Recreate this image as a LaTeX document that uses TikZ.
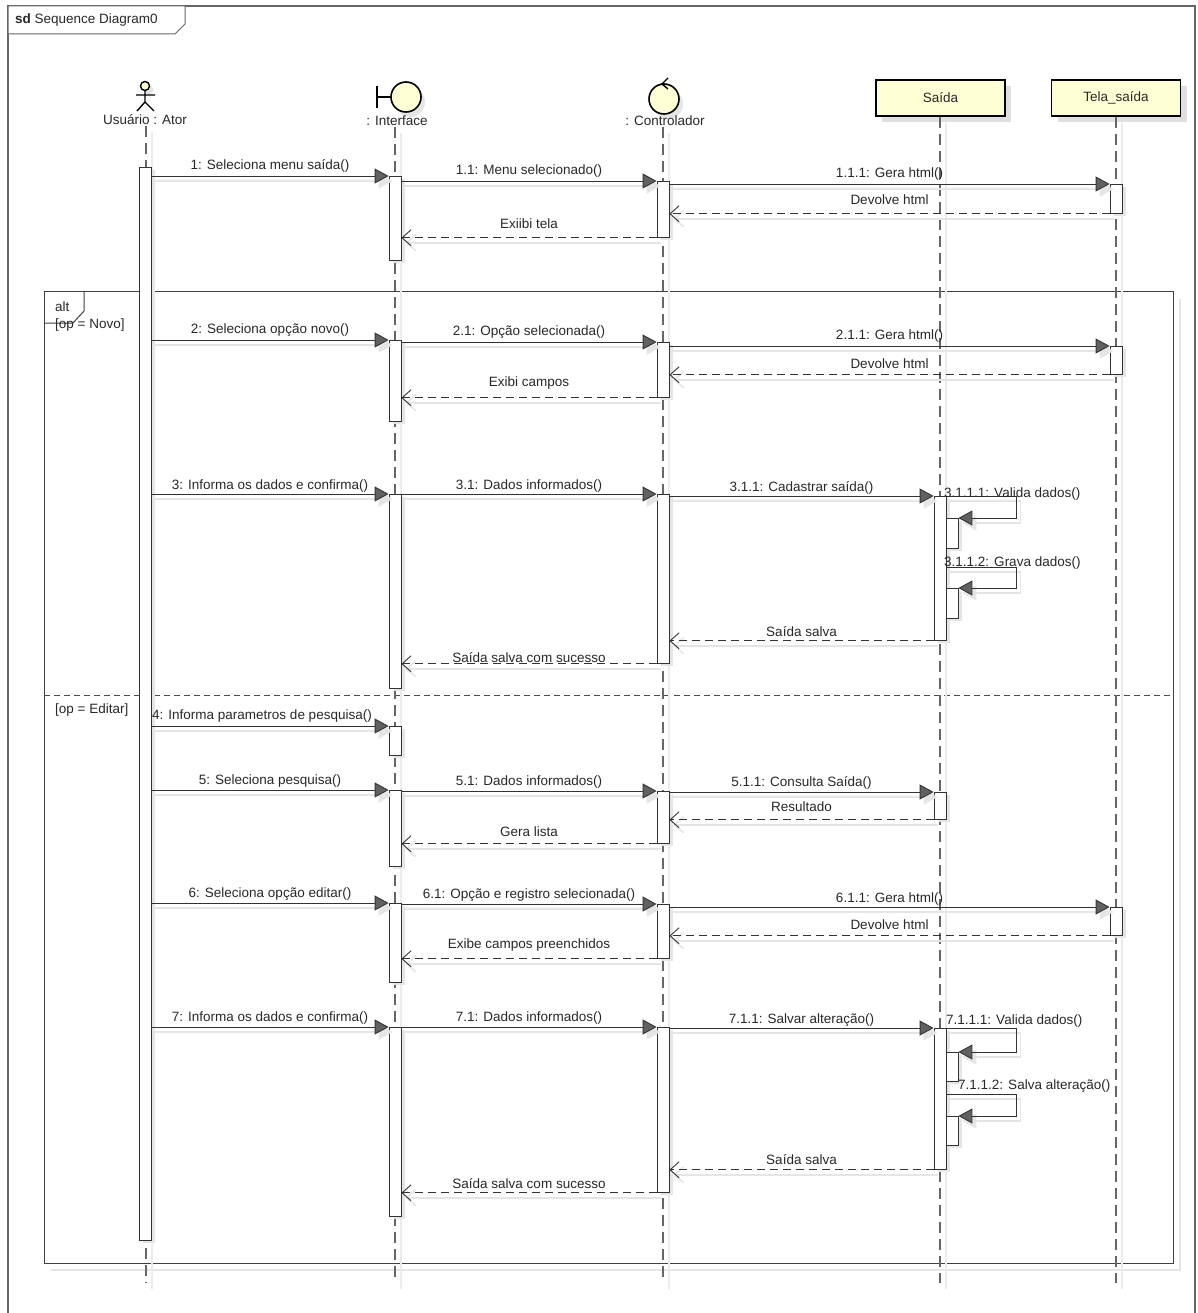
\documentclass[tikz,border=0pt]{standalone}
\usepackage{fontspec}
\setmainfont{Liberation Sans}
\usetikzlibrary{arrows.meta,calc,shadows}

\definecolor{headfill}{RGB}{255,255,214}
\definecolor{ink}{RGB}{40,40,40}

\tikzset{
    every node/.style={font=\fontsize{13.5}{16}\selectfont, text=ink, inner sep=1pt},
    lifeline/.style={draw=black!60, line width=1.4pt, dash pattern=on 11pt off 6pt,
        preaction={draw=black!8, solid, line width=1.2pt, transform canvas={shift={(6pt,-6pt)}}}},
    bar/.style={draw=black!80, fill=white, line width=0.8pt, minimum width=12pt, inner sep=0pt, anchor=north,
        drop shadow={shadow xshift=4pt, shadow yshift=-3pt, opacity=1, fill=black!10}},
    call/.style={draw=black!80, line width=0.9pt, -{Triangle[length=14pt,width=15pt,fill=black!62]},
        preaction={draw=black!10, line width=1.6pt, -{Triangle[length=14pt,width=15pt]}, transform canvas={shift={(4pt,-5pt)}}}},
    reply/.style={draw=black!80, line width=0.9pt, dash pattern=on 8pt off 5pt, -{Straight Barb[length=9pt,width=16pt]},
        preaction={draw=black!10, solid, line width=1.6pt, transform canvas={shift={(4pt,-5pt)}}}},
    headbox/.style={draw=black, line width=1.6pt, fill=headfill, minimum width=129pt, minimum height=36pt,
        drop shadow={shadow xshift=6pt, shadow yshift=-6pt, opacity=1, fill=black!12}},
}

\begin{document}
\begin{tikzpicture}[x=1pt, y=-1pt]
    \useasboundingbox (0,0) rectangle (1197,1313);
    \fill[white] (0,0) rectangle (1197,1313);

    % Outer frame
    \draw[black!60, line width=1.4pt] (8,6) rectangle (1195,1330);
    \draw[black!60, line width=1pt, fill=white] (8,6) -- (185,6) -- (185,24) -- (175,34) -- (8,34) -- cycle;
    \node[anchor=west] (sdlbl) at (14,20) {\textbf{sd} Sequence Diagram0};

    % Alt fragment
    \draw[black!10, line width=1.6pt] (1180,299) -- (1180,1270) -- (51,1270);
    \draw[black!75, line width=1pt] (44,292) rectangle (1173,1263);
    \draw[black!75, line width=1pt] (44,323) -- (73,323) -- (84,311) -- (84,292);
    \node[anchor=west] (altlbl) at (54,307) {alt};
    \node[anchor=west] (novo) at (54,325) {[op = Novo]};
    \draw[black!70, line width=1pt, dash pattern=on 6pt off 4pt] (44,695) -- (1173,695);
    \node[anchor=west] (editar) at (54,710) {[op = Editar]};

    % Lifeline heads
    \fill[black!10] (149,90) circle (4.5);
    \draw[black, line width=1.4pt, fill=headfill] (145,86) circle (4.5);
    \draw[black, line width=1.4pt] (145,90.5) -- (145,102) (136,95) -- (155,95) (137,111) -- (145,102) -- (154,111);
    \node (actor) at (145,120) {Usuário : Ator};

    \fill[black!10] (410,102) circle (15);
    \draw[black, line width=1.6pt] (377,86) -- (377,108) (377,97) -- (391,97);
    \draw[black, line width=1.6pt, fill=headfill] (406,97) circle (15);
    \node (iface) at (397,121) {: Interface};

    \fill[black!10] (668,104) circle (15);
    \draw[black, line width=1.6pt, fill=headfill] (664,99) circle (15);
    \draw[black, line width=1.4pt] (668,78) -- (662,84) -- (668,89);
    \node (ctrl) at (665,121) {: Controlador};

    \node[headbox] (saida) at (940.5,98) {Saída};
    \node[headbox] (tela) at (1116,98) {Tela\_saída};

    % Lifelines
    \draw[lifeline] (actor.south -| 146,0) -- (146,1283);
    \draw[lifeline] (iface.south -| 395,0) -- (395,1283);
    \draw[lifeline] (ctrl.south -| 663,0) -- (663,1283);
    \draw[lifeline] (saida.south -| 940,0) -- (940,1283);
    \draw[lifeline] (tela.south) -- (1116,1283);

    % Activation bars
    \node[bar, minimum height=1073pt] (a0) at (145,167) {};
    \node[bar, minimum height=84pt] (i1) at (395,176) {};
    \node[bar, minimum height=56pt] (c1) at (663,181) {};
    \node[bar, minimum height=29pt] (t1) at (1116,184) {};
    \node[bar, minimum height=81pt] (i2) at (395,340) {};
    \node[bar, minimum height=55pt] (c2) at (663,342) {};
    \node[bar, minimum height=28pt] (t2) at (1116,346) {};
    \node[bar, minimum height=194pt] (i3) at (395,494) {};
    \node[bar, minimum height=169pt] (c3) at (663,494) {};
    \node[bar, minimum height=144pt] (s3) at (940,496) {};
    \node[bar, minimum height=30pt] (s31) at (952,518) {};
    \node[bar, minimum height=30pt] (s32) at (952,588) {};
    \node[bar, minimum height=29pt] (i4) at (395,726) {};
    \node[bar, minimum height=76pt] (i5) at (395,790) {};
    \node[bar, minimum height=52pt] (c5) at (663,791) {};
    \node[bar, minimum height=27pt] (s5) at (940,792) {};
    \node[bar, minimum height=79pt] (i6) at (395,903) {};
    \node[bar, minimum height=54pt] (c6) at (663,904) {};
    \node[bar, minimum height=28pt] (t6) at (1116,907) {};
    \node[bar, minimum height=189pt] (i7) at (395,1027) {};
    \node[bar, minimum height=165pt] (c7) at (663,1027) {};
    \node[bar, minimum height=141pt] (s7) at (940,1028) {};
    \node[bar, minimum height=29pt] (s71) at (952,1052) {};
    \node[bar, minimum height=29pt] (s72) at (952,1116) {};

    % Message 1
    \draw[call] (a0.east |- i1.north) -- (i1.north west) node[midway, above=2pt] {1: Seleciona menu saída()};
    \draw[call] (i1.east |- c1.north) -- (c1.north west) node[midway, above=2pt] {1.1: Menu selecionado()};
    \draw[call] (c1.east |- t1.north) -- (t1.north west) node[midway, above=2pt] {1.1.1: Gera html()};
    \draw[reply] (t1.south west) -- (c1.east |- t1.south) node[midway, above=8pt] {Devolve html};
    \draw[reply] (c1.south west) -- (i1.east |- c1.south) node[midway, above=8pt] {Exiibi tela};

    % Option novo
    \draw[call] (a0.east |- i2.north) -- (i2.north west) node[midway, above=2pt] {2: Seleciona opção novo()};
    \draw[call] (i2.east |- c2.north) -- (c2.north west) node[midway, above=2pt] {2.1: Opção selecionada()};
    \draw[call] (c2.east |- t2.north) -- (t2.north west) node[midway, above=2pt] {2.1.1: Gera html()};
    \draw[reply] (t2.south west) -- (c2.east |- t2.south) node[midway, above=5pt] {Devolve html};
    \draw[reply] (c2.south west) -- (i2.east |- c2.south) node[midway, above=7pt] {Exibi campos};

    \draw[call] (a0.east |- i3.north) -- (i3.north west) node[midway, above=0pt] {3: Informa os dados e confirma()};
    \draw[call] (i3.east |- c3.north) -- (c3.north west) node[midway, above=0pt] {3.1: Dados informados()};
    \draw[call] (c3.east |- s3.north) -- (s3.north west) node[midway, above=0pt] {3.1.1: Cadastrar saída()};
    \draw[call] (s3.north east) -- ++(70,0) |- (s31.north east);
    \node[anchor=west] (v311) at (943,494) {3.1.1.1: Valida dados()};
    \draw[call] ($(s32.north -| s3.east)+(0,-21)$) -- ++(70,0) |- (s32.north east);
    \node[anchor=west] (v312) at (943,563) {3.1.1.2: Grava dados()};
    \draw[reply] (s3.south west) -- (c3.east |- s3.south) node[midway, above=3pt] {Saída salva};
    \draw[reply] (c3.south west) -- (i3.east |- c3.south) node[midway, above=0pt] {Saída salva com sucesso};

    % Option editar
    \draw[call] (a0.east |- i4.north) -- (i4.north west) node[midway, above=2pt, xshift=-8pt] {4: Informa parametros de pesquisa()};
    \draw[call] (a0.east |- i5.north) -- (i5.north west) node[midway, above=1pt] {5: Seleciona pesquisa()};
    \draw[call] (i5.east |- c5.north) -- (c5.north west) node[midway, above=1pt] {5.1: Dados informados()};
    \draw[call] (c5.east |- s5.north) -- (s5.north west) node[midway, above=1pt] {5.1.1: Consulta Saída()};
    \draw[reply] (s5.south west) -- (c5.east |- s5.south) node[midway, above=7pt] {Resultado};
    \draw[reply] (c5.south west) -- (i5.east |- c5.south) node[midway, above=6pt] {Gera lista};

    \draw[call] (a0.east |- i6.north) -- (i6.north west) node[midway, above=1pt] {6: Seleciona opção editar()};
    \draw[call] (i6.east |- c6.north) -- (c6.north west) node[midway, above=1pt] {6.1: Opção e registro selecionada()};
    \draw[call] (c6.east |- t6.north) -- (t6.north west) node[midway, above=0pt] {6.1.1: Gera html()};
    \draw[reply] (t6.south west) -- (c6.east |- t6.south) node[midway, above=5pt] {Devolve html};
    \draw[reply] (c6.south west) -- (i6.east |- c6.south) node[midway, above=6pt] {Exibe campos preenchidos};

    \draw[call] (a0.east |- i7.north) -- (i7.north west) node[midway, above=1pt] {7: Informa os dados e confirma()};
    \draw[call] (i7.east |- c7.north) -- (c7.north west) node[midway, above=1pt] {7.1: Dados informados()};
    \draw[call] (c7.east |- s7.north) -- (s7.north west) node[midway, above=0pt] {7.1.1: Salvar alteração()};
    \draw[call] (s7.north east) -- ++(70,0) |- (s71.north east);
    \node[anchor=west] (v711) at (945,1021) {7.1.1.1: Valida dados()};
    \draw[call] ($(s72.north -| s7.east)+(0,-22)$) -- ++(70,0) |- (s72.north east);
    \node[anchor=west] (v712) at (957,1086) {7.1.1.2: Salva alteração()};
    \draw[reply] (s7.south west) -- (c7.east |- s7.south) node[midway, above=4pt] {Saída salva};
    \draw[reply] (c7.south west) -- (i7.east |- c7.south) node[midway, above=3pt] {Saída salva com sucesso};
\end{tikzpicture}
\end{document}
